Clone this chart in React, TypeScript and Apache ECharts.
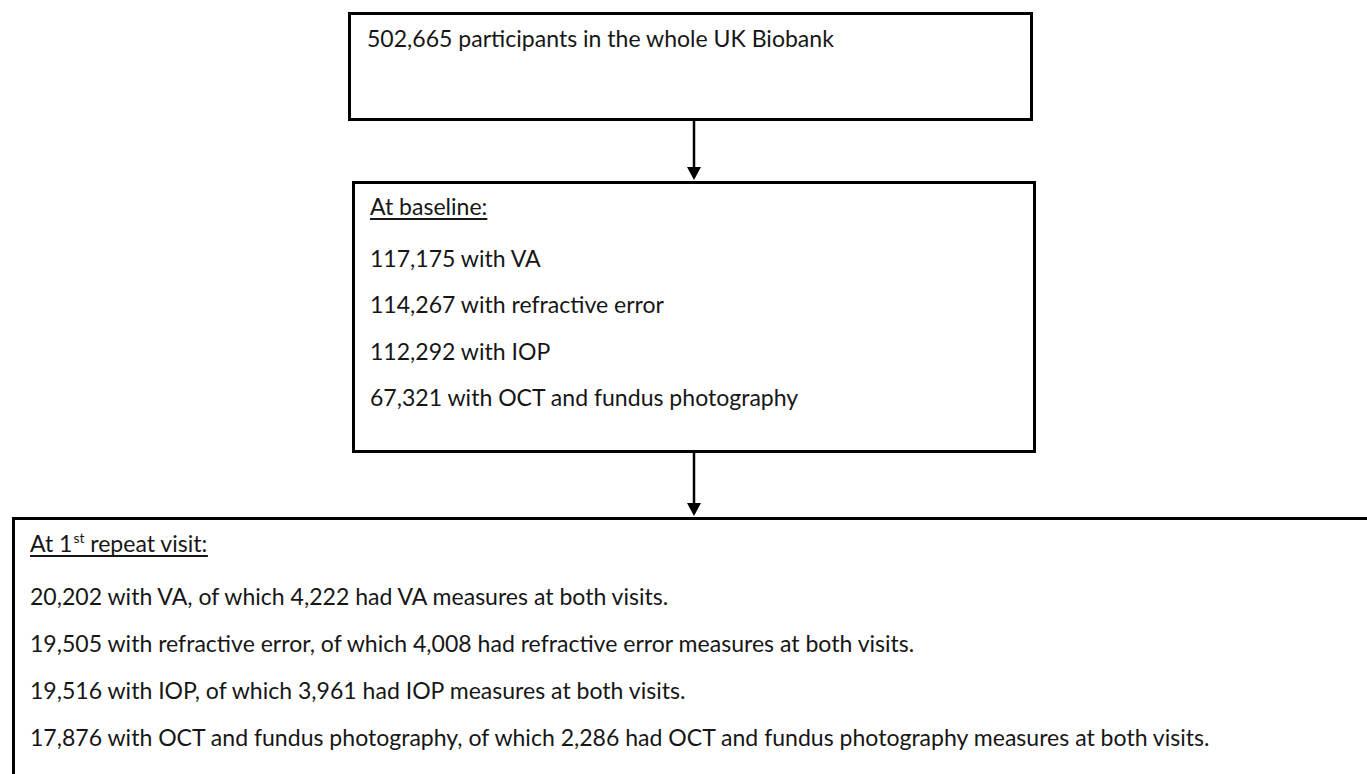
import React, { useEffect, useRef } from "react";
import * as echarts from "echarts";

const FONT = "Lato";
const box1Lines = ["502,665 participants in the whole UK Biobank"];
const box2Heading = "At baseline:";
const box2Lines = [
  "117,175 with VA",
  "114,267 with refractive error",
  "112,292 with IOP",
  "67,321 with OCT and fundus photography",
];
const box3HeadingParts = ["At 1", "st", " repeat visit:"];
const box3Lines = [
  "20,202 with VA, of which 4,222 had VA measures at both visits.",
  "19,505 with refractive error, of which 4,008 had refractive error measures at both visits.",
  "19,516 with IOP, of which 3,961 had IOP measures at both visits.",
  "17,876 with OCT and fundus photography, of which 2,286 had OCT and fundus photography measures at both visits.",
];

function measure(text: string, size: number): number {
  const c = document.createElement("canvas").getContext("2d")!;
  c.font = `${size}px ${FONT}`;
  return c.measureText(text).width;
}

export default function App() {
  const ref = useRef<HTMLDivElement>(null);
  useEffect(() => {
    document.body.style.margin = "0";
    const chart = echarts.init(ref.current!, undefined, { renderer: "svg" });
    // fit font size so the first three lines of the bottom box span their reference widths
    const base = 20;
    const target = 641 + 894 + 654;
    const got = measure(box3Lines[0], base) + measure(box3Lines[1], base) + measure(box3Lines[2], base);
    const fs = (base * target) / got;
    const supFs = fs * 0.6;
    const mid = (baseline: number, size = fs) => baseline - 0.33 * size;

    const els: any[] = [];
    const txt = (text: string, x: number, baseline: number, size = fs) => ({
      type: "text",
      style: { text, x, y: mid(baseline, size), fontSize: size, fontFamily: FONT, fill: "#161616", verticalAlign: "middle" },
    });
    const rect = (x: number, y: number, w: number, h: number) => ({
      type: "rect",
      shape: { x, y, width: w, height: h },
      style: { fill: "#fff", stroke: "#000", lineWidth: 3 },
    });
    const arrow = (x: number, y1: number, y2: number) => [
      { type: "line", shape: { x1: x, y1, x2: x, y2: y2 - 11 }, style: { stroke: "#000", lineWidth: 2.5 } },
      { type: "polygon", shape: { points: [[x - 7, y2 - 13], [x + 7, y2 - 13], [x, y2]] }, style: { fill: "#000" } },
    ];
    const underline = (x: number, y: number, w: number) => ({
      type: "line",
      shape: { x1: x, y1: y, x2: x + w, y2: y },
      style: { stroke: "#161616", lineWidth: 2 },
    });

    // boxes
    els.push(rect(349.5, 13.5, 682, 106));
    els.push(rect(353.5, 182.5, 681, 269));
    els.push(rect(13.5, 518.5, 1400, 300));
    els.push(...arrow(694, 121, 180));
    els.push(...arrow(694, 453, 516));

    // box 1
    els.push(txt(box1Lines[0], 367, 46));

    // box 2
    const b2x = 370;
    els.push(txt(box2Heading, b2x, 214));
    els.push(underline(b2x, 219, measure(box2Heading, fs)));
    const b2y = [266, 312, 359, 405];
    box2Lines.forEach((l, i) => els.push(txt(l, b2x, b2y[i])));

    // box 3
    const b3x = 30;
    const hb = 551;
    const w0 = measure(box3HeadingParts[0], fs);
    const w1 = measure(box3HeadingParts[1], supFs);
    const w2 = measure(box3HeadingParts[2], fs);
    els.push(txt(box3HeadingParts[0], b3x, hb));
    els.push(txt(box3HeadingParts[1], b3x + w0 + 1, hb - 9, supFs));
    els.push(txt(box3HeadingParts[2], b3x + w0 + 1 + w1, hb));
    els.push(underline(b3x, hb + 5, w0 + w1 + w2 + 1));
    const b3y = [604, 651, 698, 745];
    box3Lines.forEach((l, i) => els.push(txt(l, b3x, b3y[i])));

    chart.setOption({
      animation: false,
      backgroundColor: "#fff",
      graphic: { elements: els },
    });
    return () => chart.dispose();
  }, []);
  return (
    <div
      ref={ref}
      style={{ position: "fixed", left: 0, top: 0, width: 1367, height: 774, background: "#fff" }}
    />
  );
}
